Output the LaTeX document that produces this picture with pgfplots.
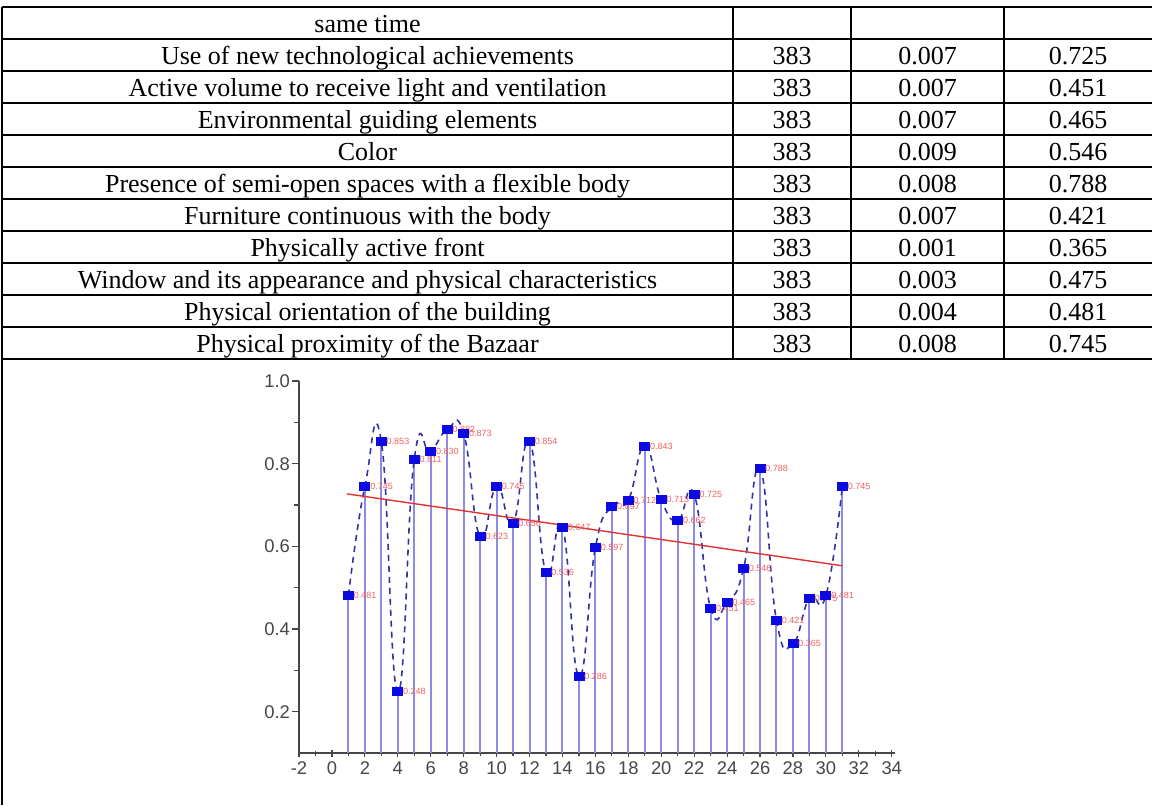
\documentclass[border=0pt]{standalone}
\usepackage{pgfplots}
\pgfplotsset{compat=1.18}
\usepackage{pgfplotstable}
\usepackage{fontspec}
\setmainfont{Liberation Serif}
\newfontfamily\axisfont{Liberation Sans}
\definecolor{stem}{RGB}{140,140,232}
\definecolor{mk}{RGB}{10,10,225}
\definecolor{curve}{RGB}{50,50,165}
\definecolor{lbl}{RGB}{240,95,95}
\definecolor{trend}{RGB}{225,50,50}
\definecolor{tickc}{RGB}{70,70,70}

\pgfplotstableread{
x y l
1 0.481 0.481
2 0.745 0.745
3 0.853 0.853
4 0.248 0.248
5 0.811 0.811
6 0.830 0.830
7 0.882 0.882
8 0.873 0.873
9 0.623 0.623
10 0.745 0.745
11 0.656 0.656
12 0.854 0.854
13 0.536 0.536
14 0.647 0.647
15 0.286 0.286
16 0.597 0.597
17 0.697 0.697
18 0.712 0.712
19 0.843 0.843
20 0.713 0.713
21 0.662 0.662
22 0.725 0.725
23 0.451 0.451
24 0.465 0.465
25 0.546 0.546
26 0.788 0.788
27 0.421 0.421
28 0.365 0.365
29 0.475 0.475
30 0.481 0.481
31 0.745 0.745
}\datatable

\begin{document}
\begin{tikzpicture}
\begin{scope}[x=0.5bp,y=0.5bp]
\useasboundingbox (0,0) rectangle (1152,805);
% table grid
\foreach \r in {7,39,...,359} \draw[line width=1bp] (2,{805-\r}) -- (1152,{805-\r});
\draw[line width=1bp] (2,{805-7}) -- (2,0);
\foreach \c in {733,851,1004} \draw[line width=1bp] (\c,{805-7}) -- (\c,{805-359});
% table text
\tikzset{tt/.style={anchor=base,inner sep=0pt,font=\fontsize{13bp}{15bp}\selectfont}}
\node[tt] at (367.5,{805-33}) {same time};
\foreach \b/\t/\n/\p/\v in {
71/Use of new technological achievements/383/0.007/0.725,
103/Active volume to receive light and ventilation/383/0.007/0.451,
135/Environmental guiding elements/383/0.007/0.465,
167/Color/383/0.009/0.546,
199/Presence of semi-open spaces with a flexible body/383/0.008/0.788,
231/Furniture continuous with the body/383/0.007/0.421,
263/Physically active front/383/0.001/0.365,
295/Window and its appearance and physical characteristics/383/0.003/0.475,
327/Physical orientation of the building/383/0.004/0.481,
359/Physical proximity of the Bazaar/383/0.008/0.745}{
\node[tt] at (367.5,{805-\b+6}) {\t};
\node[tt] at (792,{805-\b+6}) {\n};
\node[tt] at (927.5,{805-\b+6}) {\p};
\node[tt] at (1078,{805-\b+6}) {\v};
}
\end{scope}
\begin{axis}[
  at={(149.5bp,26bp)}, anchor=south west, scale only axis,
  width=298bp, height=186bp,
  xmin=-2, xmax=34.2, ymin=0.1, ymax=1.0,
  axis lines*=left,
  axis line style={tickc, line width=0.8bp},
  xtick={-2,0,...,34}, ytick={0.2,0.4,0.6,0.8,1.0},
  minor x tick num=1, minor y tick num=1,
  tick style={tickc, line width=0.6bp},
  major tick length=3.5bp, minor tick length=2.5bp,
  x tick style={/pgfplots/tick align=center},
  y tick style={/pgfplots/tick align=outside},
  ticklabel style={font=\axisfont\fontsize{9.2bp}{11bp}\selectfont, text=tickc},
  xticklabel style={yshift=-1bp},
  yticklabel style={xshift=-1bp},
  /pgf/number format/assume math mode=true,
  yticklabel style={/pgf/number format/.cd, fixed, fixed zerofill, precision=1},
]
\addplot[ycomb, stem, line width=1bp, no marks] table[x=x,y=y] {\datatable};
\addplot[curve, smooth, tension=0.85, line width=0.8bp, dash pattern=on 3bp off 2.5bp, no marks] table[x=x,y=y] {\datatable};
\addplot[trend, line width=0.7bp] coordinates {(0.9,0.727) (31,0.553)};
\addplot[only marks, mark=square*, mark size=2bp, mark options={mk, draw=mk, fill=mk, xscale=1.25},
  point meta=explicit symbolic, nodes near coords,
  nodes near coords style={anchor=west, xshift=2bp, inner sep=0.5bp, text=lbl, font=\axisfont\fontsize{4.5bp}{5bp}\selectfont}]
  table[x=x,y=y,meta=l] {\datatable};
\end{axis}
\end{tikzpicture}
\end{document}
